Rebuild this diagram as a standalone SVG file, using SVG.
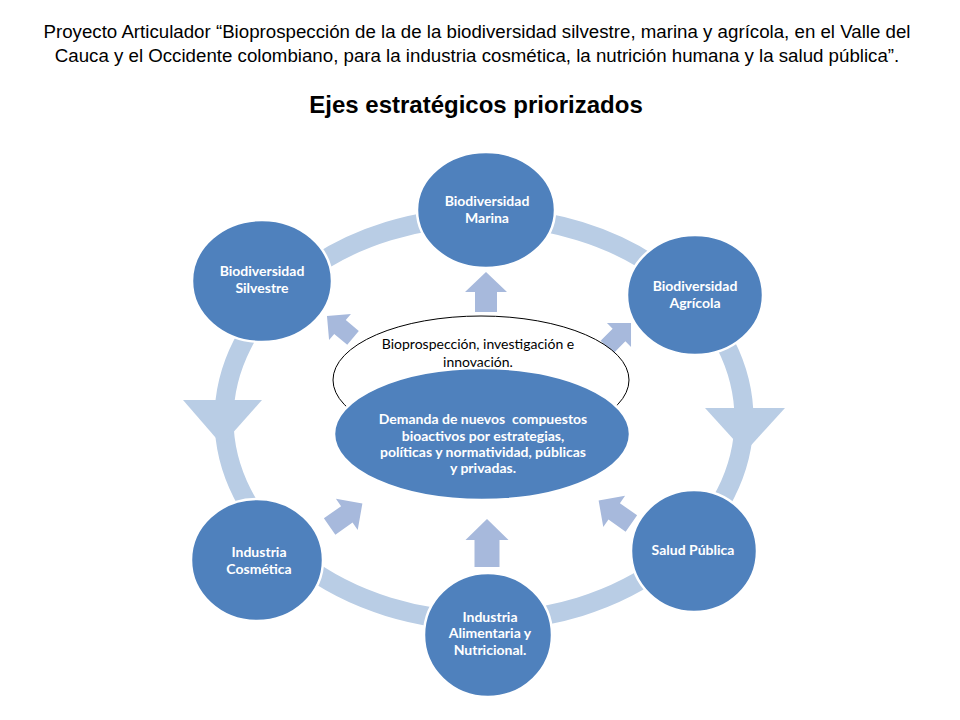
<svg xmlns="http://www.w3.org/2000/svg" width="960" height="720" viewBox="0 0 960 720">
<style>
.title{font-family:"Liberation Sans",Arial,sans-serif;font-size:18.7px;fill:#000;text-anchor:middle}
.head{font-family:"Liberation Sans",Arial,sans-serif;font-size:24px;font-weight:bold;fill:#000;text-anchor:middle}
.node{fill:#4f81bd;stroke:#fff;stroke-width:2.5}
.lbl{font-family:Lato,"Open Sans",sans-serif;font-size:14px;font-weight:bold;fill:#fff;text-anchor:middle;white-space:pre}
.olbl{font-family:Lato,"Open Sans",sans-serif;font-size:14px;fill:#000;text-anchor:middle}
.ring{fill:none;stroke:#b9cde5;stroke-width:19}
.rhead{fill:#b9cde5}
.arr{fill:#a7b9dc}
</style>
<rect width="960" height="720" fill="#fff"/>
<text class="title" x="477" y="38">Proyecto Articulador “Bioprospección de la de la biodiversidad silvestre, marina y agrícola,  en el Valle del</text>
<text class="title" x="477" y="62">Cauca y el Occidente colombiano, para la industria cosmética, la nutrición humana y la salud pública”.</text>
<text class="head" x="476" y="113">Ejes estratégicos priorizados</text>

<g id="connectors">
<ellipse class="ring" cx="484" cy="419" rx="260" ry="202"/>
<polygon class="rhead" points="183,400 262,400 222,445"/>
<polygon class="rhead" points="705,408 785,408 745,452"/>
<path class="arr" transform="translate(486,292)" d="M0,-20 L21,0 L11,0 L11,20 L-11,20 L-11,0 L-21,0 Z"/>
<path class="arr" transform="translate(487,543)" d="M0,-24 L21.5,-3 L12.5,-3 L12.5,24 L-12.5,24 L-12.5,-3 L-21.5,-3 Z"/>
<path class="arr" transform="translate(340,327) rotate(-50)" d="M0,-17 L17,0 L9,0 L9,17 L-9,17 L-9,0 L-17,0 Z"/>
<path class="arr" transform="translate(619,335) rotate(45)" d="M0,-17 L17,0 L9,0 L9,17 L-9,17 L-9,0 L-17,0 Z"/>
<path class="arr" transform="translate(346,515) rotate(55)" d="M0,-20 L19,-1 L10,-1 L10,20 L-10,20 L-10,-1 L-19,-1 Z"/>
<path class="arr" transform="translate(615,512) rotate(-55)" d="M0,-20 L19,-1 L10,-1 L10,20 L-10,20 L-10,-1 L-19,-1 Z"/>
</g>

<g id="outer-ellipse">
<ellipse cx="481" cy="380" rx="148" ry="64" fill="#fff" stroke="#000" stroke-width="1"/>
<text class="olbl" x="478" y="349">Bioprospección, investigación e</text>
<text class="olbl" x="478" y="367">innovación.</text>
</g>

<g id="center">
<ellipse class="node" cx="482" cy="434" rx="148" ry="66"/>
<text class="lbl" x="483" y="424">Demanda de nuevos  compuestos</text>
<text class="lbl" x="483" y="441">bioactivos por estrategias,</text>
<text class="lbl" x="483" y="457">políticas y normatividad, públicas</text>
<text class="lbl" x="483" y="473">y privadas.</text>
</g>

<g id="marina">
<ellipse class="node" cx="486" cy="210" rx="69" ry="58"/>
<text class="lbl" x="487" y="206">Biodiversidad</text>
<text class="lbl" x="487" y="223">Marina</text>
</g>
<g id="silvestre">
<ellipse class="node" cx="262" cy="281" rx="70" ry="61"/>
<text class="lbl" x="262" y="276">Biodiversidad</text>
<text class="lbl" x="262" y="293">Silvestre</text>
</g>
<g id="agricola">
<ellipse class="node" cx="695" cy="295" rx="68" ry="60"/>
<text class="lbl" x="695" y="291">Biodiversidad</text>
<text class="lbl" x="695" y="308">Agrícola</text>
</g>
<g id="cosmetica">
<ellipse class="node" cx="257" cy="560" rx="66" ry="61"/>
<text class="lbl" x="259" y="557">Industria</text>
<text class="lbl" x="259" y="574">Cosmética</text>
</g>
<g id="salud">
<ellipse class="node" cx="694" cy="551" rx="63" ry="61"/>
<text class="lbl" x="693" y="555">Salud Pública</text>
</g>
<g id="alimentaria">
<ellipse class="node" cx="488" cy="635" rx="64" ry="62"/>
<text class="lbl" x="490" y="622">Industria</text>
<text class="lbl" x="490" y="638">Alimentaria y</text>
<text class="lbl" x="490" y="655">Nutricional.</text>
</g>
</svg>
